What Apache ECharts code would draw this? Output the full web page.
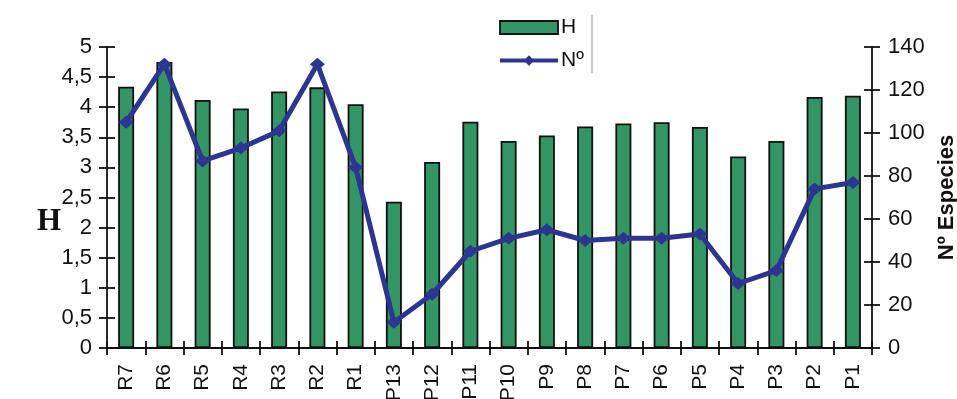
<!DOCTYPE html>
<html>
<head>
<meta charset="utf-8">
<script src="https://cdn.jsdelivr.net/npm/echarts@6/dist/echarts.min.js"></script>
<style>
html,body{margin:0;padding:0;background:#fff;}
#chart{width:957px;height:399px;}
</style>
</head>
<body>
<div id="chart"></div>
<script>
const categories = ['R7','R6','R5','R4','R3','R2','R1','P13','P12','P11','P10','P9','P8','P7','P6','P5','P4','P3','P2','P1'];
const hValues = [4.34,4.75,4.12,3.98,4.26,4.33,4.05,2.43,3.09,3.76,3.44,3.53,3.68,3.73,3.75,3.67,3.18,3.44,4.17,4.19];
const speciesValues = [105,132,87,93,101,132,84,12,25,45,51,55,50,51,51,53,30,36,74,77];
const leftTicks = [0,0.5,1,1.5,2,2.5,3,3.5,4,4.5,5];
const rightTicks = [0,20,40,60,80,100,120,140];

const chart = echarts.init(document.getElementById('chart'));
const axisFont = {fontFamily:'Arial, Liberation Sans, sans-serif', fontSize:22, color:'#111'};
const lineStyle = {color:'#111', width:1.8};
const barColor = '#339563';
const lineColor = '#2c3592';

chart.setOption({
  animation:false,
  backgroundColor:'#fff',
  grid:{left:107,right:85,top:47,bottom:51, containLabel:false, outerBoundsMode:'none'},
  legend:{
    orient:'vertical', left:493, top:12,
    itemWidth:58, itemHeight:13, itemGap:12,
    textStyle:{fontFamily:'Arial, Liberation Sans, sans-serif', fontSize:21, color:'#111', padding:[0,0,0,-2]},
    data:[
      {name:'H', icon:'rect', itemStyle:{color:barColor, borderColor:'#111', borderWidth:1.8}},
      {name:'Nº', lineStyle:{color:lineColor, width:4}}
    ]
  },
  graphic:[
    {type:'line', shape:{x1:592,y1:15,x2:592,y2:73}, style:{stroke:'#999', lineWidth:1}},
    {type:'text', left:37, top:206, style:{text:'H', font:'bold 31px "Liberation Serif", "Times New Roman", serif', fill:'#111'}}
  ],
  xAxis:[{
    type:'category', data:categories,
    axisLine:{lineStyle:lineStyle},
    axisTick:{show:true, length:7, lineStyle:lineStyle},
    axisLabel:Object.assign({}, axisFont, {rotate:90, margin:16, interval:0, fontSize:21})
  },{
    type:'category', data:categories, position:'bottom', offset:0,
    axisLine:{show:false},
    axisTick:{show:true, inside:true, length:7, lineStyle:lineStyle},
    axisLabel:{show:false}
  }],
  yAxis:[{
    type:'value', min:0, max:5, interval:0.5, position:'left',
    axisLine:{show:true, lineStyle:lineStyle},
    axisTick:{show:true, length:8, lineStyle:lineStyle},
    axisLabel:Object.assign({margin:15, formatter:v=>String(v).replace('.',',')}, axisFont),
    splitLine:{show:false}
  },{
    type:'value', min:0, max:140, interval:20, position:'right',
    name:'Nº Especies', nameLocation:'middle', nameRotate:90, nameGap:62,
    nameTextStyle:{fontFamily:'Arial, Liberation Sans, sans-serif', fontWeight:'bold', fontSize:22, color:'#111'},
    axisLine:{show:true, lineStyle:lineStyle},
    axisTick:{show:true, length:8, lineStyle:lineStyle},
    axisLabel:Object.assign({margin:16}, axisFont),
    splitLine:{show:false}
  },{
    type:'value', min:0, max:5, interval:0.5, position:'left', offset:0,
    axisLine:{show:false}, axisTick:{show:true, inside:true, length:8, lineStyle:lineStyle},
    axisLabel:{show:false}, splitLine:{show:false}
  },{
    type:'value', min:0, max:140, interval:20, position:'right', offset:0,
    axisLine:{show:false}, axisTick:{show:true, inside:true, length:8, lineStyle:lineStyle},
    axisLabel:{show:false}, splitLine:{show:false}
  }],
  series:[{
    name:'H', type:'bar', xAxisIndex:0, yAxisIndex:0, data:hValues, barWidth:16,
    itemStyle:{color:barColor, borderColor:'#111', borderWidth:1.8}
  },{
    name:'Nº', type:'line', xAxisIndex:0, yAxisIndex:1, data:speciesValues,
    symbol:'diamond', symbolSize:[15,13],
    lineStyle:{color:lineColor, width:5},
    itemStyle:{color:lineColor}
  }]
});
</script>
</body>
</html>
